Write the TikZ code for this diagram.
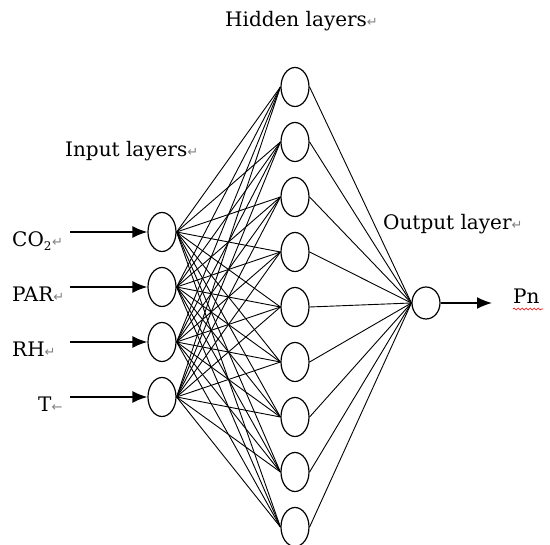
\documentclass[tikz,border=0pt]{standalone}
\usepackage{fontspec}
\usepackage{xcolor}
\setmainfont{DejaVu Serif}
\newfontfamily\symfont{DejaVu Sans}
\usetikzlibrary{arrows.meta,decorations.pathmorphing,shapes.geometric}
\newcommand\retmark{{\color{gray}\symfont\fontsize{13pt}{13pt}\selectfont ↵}}
\newcommand\lfmark{{\color{gray}\symfont\fontsize{13pt}{13pt}\selectfont ←}}

\tikzset{
    neuron/.style={draw,ellipse,line width=1.2pt,minimum width=28pt,minimum height=39pt,inner sep=0pt},
    link/.style={line width=0.9pt},
    feed/.style={line width=1.6pt,-{Latex[length=15pt,width=12pt]}},
    caption/.style={anchor=base west,inner sep=0pt,font=\fontsize{20pt}{20pt}\selectfont}
}

\begin{document}
\begin{tikzpicture}[x=1pt,y=-1pt]
\useasboundingbox (0,0) rectangle (550,545);
% nodes
\foreach \i/\y in {1/232,2/287,3/342,4/397}
    \path (162,\y) node [neuron,fill=white] (in\i) {};
\foreach \i in {1,...,9}
    \path (295,{87+55*(\i-1)}) node [neuron,fill=white] (hid\i) {};
\path (426,303) node [neuron,minimum height=32pt] (out) {};
% connections
\foreach \i in {1,...,4}
    \foreach \j in {1,...,9}
        \draw [link] (in\i.east) -- (hid\j.west);
\foreach \j in {1,...,9}
    \draw [link] (hid\j.east) -- (out.west);
% inputs
\path
    (12,247) node [caption] (co2) {CO$_{\mbox{\fontsize{12pt}{12pt}\selectfont 2}}$\retmark}
    (12,302) node [caption] (par) {PAR\retmark}
    (12,357) node [caption] (rh) {RH\retmark}
    (38,412) node [caption] (t) {T\lfmark};
\foreach \i/\y in {1/232,2/287,3/342,4/397}
    \draw [feed] (70,\y) coordinate (src\i) -- (in\i.west);
% output
\path (492,303) coordinate (sink);
\draw [feed] (out.east) -- (sink);
\path (513,304) node [caption] (pn) {Pn};
\draw [red,line width=0.6pt,decorate,decoration={snake,amplitude=1pt,segment length=4pt}]
    (pn.base west) ++(0,5) -- ++(30,0);
% layer titles
\path
    (225,27) node [caption] (hidtitle) {Hidden layers\retmark}
    (65,157) node [caption] (intitle) {Input layers\retmark}
    (383,230) node [caption] (outtitle) {Output layer\retmark};
\end{tikzpicture}
\end{document}
